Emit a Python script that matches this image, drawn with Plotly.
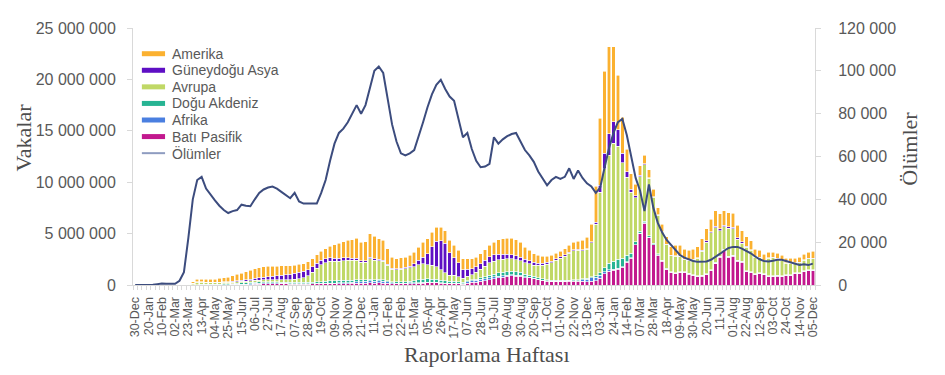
import pandas as pd
import plotly.graph_objects as go

# Weekly reporting periods (Monday start), 30-Dec-2019 .. 05-Dec-2022
weeks = pd.date_range("2019-12-30", periods=154, freq="7D")

tick_labels = ["30-Dec","20-Jan","10-Feb","02-Mar","23-Mar","13-Apr","04-May","25-May","15-Jun","06-Jul",
               "27-Jul","17-Aug","07-Sep","28-Sep","19-Oct","09-Nov","30-Nov","21-Dec","11-Jan","01-Feb",
               "22-Feb","15-Mar","05-Apr","26-Apr","17-May","07-Jun","28-Jun","19-Jul","09-Aug","30-Aug",
               "20-Sep","11-Oct","01-Nov","22-Nov","13-Dec","03-Jan","24-Jan","14-Feb","07-Mar","28-Mar",
               "18-Apr","09-May","30-May","20-Jun","11-Jul","01-Aug","22-Aug","12-Sep","03-Oct","24-Oct",
               "14-Nov","05-Dec"]

# Weekly cases by WHO region (thousands)
amerika = [0,0,0,0,0,0,0,0,0,0,2,10,40,
           150,250,250,260,270,300,350,400,450,550,
           620,700,780,880,960,980,1000,1010,960,920,
           900,850,800,780,770,760,760,780,820,880,
           980,1150,1300,1450,1600,1700,1800,1950,1800,1850,2250,2200,
           2000,1900,1500,1100,1000,1000,1000,1050,1150,1300,
           1450,1450,1400,1350,1300,1250,1200,1200,1200,1100,
           1050,1000,950,950,1000,1100,1250,1400,1500,1550,
           1600,1550,1450,1200,1000,850,750,650,600,550,
           550,550,600,650,750,800,900,1100,1700,
           3500,6500,8000,8500,7300,5300,3500,2200,1500,1100,
           900,800,750,700,650,700,750,800,1000,1050,
           1000,1000,1000,1050,1100,1150,1200,1500,1500,1400,
           1400,1400,1200,1100,950,850,750,700,600,550,
           500,500,500,450,450,450,500,550,600,700]

guneydogu_asya = [0,0,0,0,0,0,0,0,0,0,0,0,1,
           5,8,10,15,20,25,30,40,50,65,
           80,95,115,140,175,210,250,290,340,390,
           440,490,540,580,620,620,580,540,480,420,
           370,340,310,290,270,250,230,200,180,160,150,130,
           120,110,100,100,100,110,130,160,250,400,
           650,1050,1800,2500,2850,2850,2200,1700,1350,800,
           650,550,550,550,600,600,600,550,500,450,
           420,400,380,330,300,250,220,200,180,160,
           150,140,130,120,110,100,90,90,110,
           200,700,1500,2100,2100,1600,900,500,300,200,
           150,100,80,60,50,40,40,40,50,50,
           50,50,60,70,100,120,140,150,160,150,
           150,150,140,120,100,80,70,60,50,50,
           40,40,40,30,30,30,30,30,30,30]

avrupa = [0,0,0,0,0,0,0,0,1,5,20,50,50,
           140,245,230,210,190,180,170,160,150,140,
           150,150,160,170,180,175,180,190,200,210,
           230,250,270,310,350,430,620,950,1340,1640,
           1820,1900,1900,1890,1900,1950,1920,1900,1700,1700,2000,1900,
           1800,1800,1500,1200,1150,1200,1250,1300,1400,1500,
           1500,1400,1350,1200,1000,800,570,600,500,400,
           450,500,650,850,1050,1200,1250,1250,1250,1250,
           1200,1150,1100,1100,1100,1100,1200,1350,1500,1700,
           1950,2150,2350,2600,2820,2850,2750,2800,3300,
           5000,7800,9600,10500,11500,11000,9300,7600,5900,4300,
           5300,5500,5600,4500,3780,2750,2300,1550,1600,1450,
           1150,1200,1450,1700,2350,3080,3560,3350,2500,2150,
           2700,2550,2070,1790,2250,2070,1580,1440,1260,1720,
           1780,1630,1480,1140,1140,940,990,1040,1090,1090]

dogu_akdeniz = [0,0,0,0,0,0,0,1,2,3,5,8,6,
           15,30,40,45,45,50,60,70,80,95,
           115,125,130,135,130,125,120,115,110,105,
           100,100,105,110,120,130,140,150,160,180,
           200,220,230,240,240,230,220,200,180,170,170,160,
           150,140,130,120,120,130,150,170,200,260,
           300,300,290,280,240,210,190,170,150,120,
           110,110,120,140,170,220,280,330,350,350,
           340,320,300,260,220,180,150,130,110,100,
           90,85,80,80,80,80,85,90,110,
           150,250,400,600,750,850,800,650,450,250,
           200,150,120,100,80,70,60,50,40,40,
           40,40,40,40,50,60,60,60,50,50,
           50,50,50,50,50,50,50,50,40,40,
           40,40,40,40,40,40,40,40,40,40]

afrika = [0,0,0,0,0,0,0,0,0,0,0,0,1,
           3,5,7,8,10,12,15,15,20,25,
           35,45,55,70,85,100,110,110,100,85,
           75,65,55,50,50,45,45,40,45,50,
           55,60,65,75,80,90,100,130,140,170,200,160,
           200,190,150,100,90,80,80,80,80,80,
           80,80,80,70,70,70,70,70,70,60,
           120,150,180,200,210,200,170,150,130,120,
           110,100,90,70,50,40,30,30,25,20,
           20,20,20,20,25,50,120,250,330,
           350,300,200,150,100,100,80,50,50,40,
           50,50,50,40,40,40,50,60,60,60,
           60,60,50,40,50,40,40,40,40,50,
           50,50,40,40,50,50,50,50,50,40,
           40,40,40,40,40,40,40,40,40,40]

bati_pasifik = [0,0,0,0,2,12,20,17,5,3,3,4,5,
           7,12,13,12,15,13,15,15,20,25,
           30,35,40,45,70,80,100,115,120,120,
           115,105,90,90,90,95,95,100,105,100,
           105,110,105,125,140,140,150,170,170,180,200,190,
           230,190,150,100,100,110,110,120,120,150,
           190,210,210,210,150,110,100,110,100,80,
           180,250,270,350,400,530,620,710,760,830,
           880,870,850,730,700,620,530,430,375,350,
           350,355,350,380,385,380,385,320,380,
           400,650,1100,1350,1450,1550,1720,2200,2600,3900,
           5000,6000,4600,3900,2900,2300,1500,1200,1100,1200,
           1200,1050,900,800,850,1000,1400,2100,2700,3400,
           2700,2800,2300,2200,1300,1200,1000,1100,1000,800,
           800,850,800,900,900,1100,1100,1300,1400,1400]

# Weekly deaths (global)
olumler = [0,0,0,10,100,400,700,600,500,600,2000,6000,22000,
           40000,49000,50500,45000,42000,39500,37000,35000,33600,34500,
           35000,37500,37000,36800,40000,43000,44600,45500,46000,45000,
           43500,42000,40500,43000,39000,38000,38000,38000,38000,43000,
           49000,58000,66000,71000,73000,76000,80000,84000,80000,84000,92000,100000,
           102000,99000,87000,75000,67000,61500,60500,61500,63000,69000,
           76000,83000,89000,93500,95800,91500,88000,86000,78000,69000,
           71000,63500,58000,55000,55300,56600,69000,66000,68000,69500,
           70500,71000,67000,63000,60500,57500,53000,49500,46500,49000,
           50500,49500,50500,54500,49500,53500,50000,47500,46000,
           43000,45500,55000,64000,71000,76000,77500,70000,60000,50000,
           44000,34500,47000,36000,29000,24500,21000,18500,16000,14000,
           12800,12000,11200,10800,10800,11000,11800,13000,14500,16000,
           17300,17800,17800,17000,16000,14800,13300,12000,11200,11000,
           11300,11800,11800,11200,10500,9700,9300,9700,9300,10000]

regions = [  # name, values (thousands), colour ; bottom of stack first
    ("Batı Pasifik", bati_pasifik, "#C2188E"),
    ("Afrika", afrika, "#4A7FE0"),
    ("Doğu Akdeniz", dogu_akdeniz, "#27B493"),
    ("Avrupa", avrupa, "#C0D866"),
    ("Güneydoğu Asya", guneydogu_asya, "#5E0FC4"),
    ("Amerika", amerika, "#FBB130"),
]
death_colour = "#3C4C7E"
legend_items = [("Amerika", "#FBB130", 5), ("Güneydoğu Asya", "#5E0FC4", 5), ("Avrupa", "#C0D866", 5),
                ("Doğu Akdeniz", "#27B493", 5), ("Afrika", "#4A7FE0", 5), ("Batı Pasifik", "#C2188E", 5),
                ("Ölümler", "#8E9CC0", 2)]

fig = go.Figure()
for name, vals, col in regions:
    fig.add_trace(go.Bar(
        x=weeks, y=[v * 1000 for v in vals], name=name, showlegend=False,
        marker=dict(color=col, line=dict(color="white", width=0.6)),
    ))

fig.add_trace(go.Scatter(x=weeks, y=olumler, name="Ölümler", mode="lines", yaxis="y2",
                         showlegend=False, line=dict(color=death_colour, width=2)))

grey = "#595959"
axis_line = "#D9D9D9"
serif = "Liberation Serif, Times New Roman, serif"

# Excel-style legend (compact rows) in the upper-left of the plot area
shapes, annots = [], []
for i, (name, col, w) in enumerate(legend_items):
    yc = 0.900 - i * 0.0645
    shapes.append(dict(type="line", xref="paper", yref="paper", x0=0.013, x1=0.047, y0=yc, y1=yc,
                       line=dict(color=col, width=w)))
    annots.append(dict(text=name, xref="paper", yref="paper", x=0.054, y=yc, xanchor="left",
                       yanchor="middle", showarrow=False, font=dict(size=14, color=grey)))

annots += [
    dict(text="Raporlama Haftası", xref="paper", yref="paper", x=0.519, y=-0.27,
         xanchor="center", yanchor="middle", showarrow=False,
         font=dict(family=serif, size=22, color="#4D4D4D")),
    dict(text="Vakalar", xref="paper", yref="paper", x=-0.16, y=0.573, textangle=-90,
         xanchor="center", yanchor="middle", showarrow=False,
         font=dict(family=serif, size=22, color="#4D4D4D")),
    dict(text="Ölümler", xref="paper", yref="paper", x=1.138, y=0.531, textangle=-90,
         xanchor="center", yanchor="middle", showarrow=False,
         font=dict(family=serif, size=22, color="#4D4D4D")),
]

# page body has an 8px margin: size/margins compensate so the plot area sits where the reference has it
fig.update_layout(
    width=929, height=359,
    margin=dict(l=125, r=122, t=17, b=82),
    paper_bgcolor="white", plot_bgcolor="white",
    barmode="stack", bargap=0.22,
    separators=", ",
    font=dict(family="Liberation Sans, Arial, sans-serif", color=grey, size=14),
    showlegend=False,
    xaxis=dict(
        type="date",
        range=["2019-12-26 12:00", "2022-12-08 12:00"],
        tickvals=list(weeks[::3]), ticktext=tick_labels, tickangle=-90,
        tickfont=dict(size=12.5, color=grey),
        ticks="", ticklabelstandoff=6,
        minor=dict(ticks="outside", ticklen=4, tickcolor=axis_line,
                   dtick=7 * 86400000, tick0="2019-12-26 12:00"),
        showline=True, linecolor=axis_line, linewidth=1,
        showgrid=False, zeroline=False,
    ),
    yaxis=dict(
        range=[0, 25000000], dtick=5000000, tickformat=",d",
        ticks="outside", ticklen=5, tickcolor=axis_line, ticklabelstandoff=8,
        showline=True, linecolor=axis_line, linewidth=1,
        showgrid=False, zeroline=False,
        tickfont=dict(size=16, color=grey),
    ),
    yaxis2=dict(
        range=[0, 120000], dtick=20000, tickformat=",d",
        overlaying="y", side="right",
        ticks="outside", ticklen=5, tickcolor=axis_line, ticklabelstandoff=14,
        showline=True, linecolor=axis_line, linewidth=1,
        showgrid=False, zeroline=False,
        tickfont=dict(size=16, color=grey),
    ),
    shapes=shapes,
    annotations=annots,
)

fig.write_html("out.html")
